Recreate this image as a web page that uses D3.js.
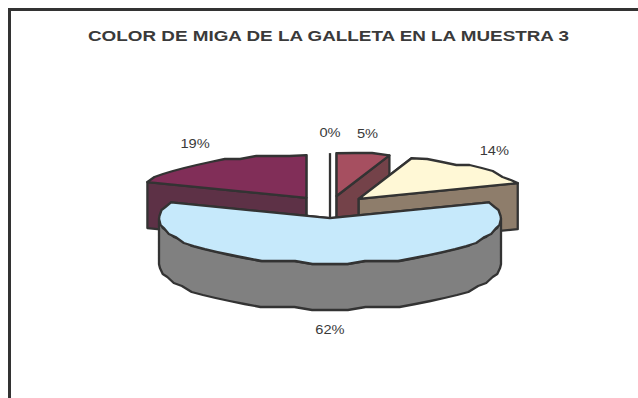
<!DOCTYPE html>
<html>
<head>
<meta charset="utf-8">
<script src="https://cdn.jsdelivr.net/npm/d3@7/dist/d3.min.js"></script>
<style>
html,body{margin:0;padding:0;background:#fff;overflow:hidden}
svg{display:block}
text{font-family:"Liberation Sans",Arial,sans-serif;fill:#3a3a3a}
</style>
</head>
<body>
<svg id="chart" width="638" height="398"></svg>
<script>
const chartTitle = "COLOR DE MIGA DE LA GALLETA EN LA MUESTRA 3";
const categories = ["Color 1", "Color 2", "Color 3", "Color 4", "Color 5"];
const shares = [0, 5, 14, 62, 19];
const topColors = ["#ffffff", "#a64f60", "#fff8d6", "#c6e9fb", "#812e58"];
const wallColors = ["#ffffff", "#744249", "#8e7d6b", "#808080", "#5d3146"];
// Back slices are painted first so the front slice overlaps them.
const paintOrder = [0, 4, 1, 2, 3];

const ink = "#333333";
const lineWidth = 2.3;
const cx = 330, cy = 207, rx = 171, depth = 46, explode = 42;
// The far half of the pie is foreshortened a little more than the near half.
const tiltFar = 0.25, tiltNear = 0.265;
// Text is set wider than the font's natural proportions.
const textWiden = 1.17;

const svg = d3.select("#chart");

// Chart frame runs off the right and bottom edges.
svg.append("path")
  .attr("d", "M9.5,398V9.5H638")
  .attr("fill", "none").attr("stroke", ink).attr("stroke-width", 3);

svg.append("text")
  .attr("x", 328.5).attr("y", 41)
  .attr("text-anchor", "middle")
  .attr("font-size", 14).attr("font-weight", "bold")
  .attr("textLength", 481).attr("lengthAdjust", "spacingAndGlyphs")
  .text(chartTitle);

const slices = d3.pie().value(d => d).sort(null)(shares);

const project = (a, r, ox, oy, tilt) => {
  const c = Math.cos(a);
  const k = tilt !== undefined ? tilt : (c > 0 ? tiltFar : tiltNear);
  return [ox + r * Math.sin(a), oy - r * k * c];
};
const stair = 3;
const rough = ([x, y]) => [x, Math.round(y / stair) * stair];

// Rim sampled into short chords, giving the faceted outline of the pie edge.
function rim(a0, a1, ox, oy) {
  const n = Math.max(1, Math.ceil(Math.abs(a1 - a0) / (6 * Math.PI / 180)));
  return d3.range(n + 1).map(i => {
    const p = project(a0 + (a1 - a0) * i / n, rx, ox, oy);
    return (i === 0 || i === n) ? p : rough(p);
  });
}
const line = d3.line();
const drop = pts => pts.map(([x, y]) => [x, y + depth]);
const poly = (sel, pts, fill) => sel.append("path")
  .attr("d", line(pts) + "Z")
  .attr("fill", fill).attr("stroke", ink)
  .attr("stroke-width", lineWidth).attr("stroke-linejoin", "round");

paintOrder.forEach(i => {
  const s = slices[i];
  const mid = (s.startAngle + s.endAngle) / 2;
  const ox = cx + explode * Math.sin(mid);
  const oy = cy - explode * tiltNear * Math.cos(mid);
  const g = svg.append("g").attr("class", "slice").datum(categories[i]);
  const apex = [ox, oy];

  if (s.endAngle === s.startAngle) {
    // An empty share collapses to a single upright edge.
    const edge = project(s.startAngle, rx, ox, oy);
    g.append("path").attr("d", line([edge, apex, [ox, oy + depth]]))
      .attr("fill", "none").attr("stroke", ink).attr("stroke-width", lineWidth);
    return;
  }

  // Cut faces, visible where the radial edge turns towards the viewer.
  [s.startAngle, s.endAngle].forEach(a => {
    const e = project(a, rx, ox, oy);
    poly(g, [apex, e, [e[0], e[1] + depth], [ox, oy + depth]], wallColors[i]);
  });

  // Outer wall for the front half of the rim.
  const lo = Math.max(s.startAngle, Math.PI / 2);
  const hi = Math.min(s.endAngle, 3 * Math.PI / 2);
  if (hi > lo) {
    const arc = rim(lo, hi, ox, oy);
    poly(g, arc.concat(drop(arc).reverse()), wallColors[i]);
  }

  poly(g, [apex].concat(rim(s.startAngle, s.endAngle, ox, oy)), topColors[i]);
});

// Percentage labels sit on a wider ring around the pie.
const labelRing = 240;
slices.forEach((s, i) => {
  const mid = (s.startAngle + s.endAngle) / 2;
  const front = Math.cos(mid) < 0;
  const p = project(mid, labelRing, cx, cy, tiltNear);
  const label = svg.append("text")
    .attr("x", p[0]).attr("y", p[1] + (front ? depth + 17 : -6))
    .attr("text-anchor", "middle")
    .attr("font-size", 12.5)
    .text(shares[i] + "%");
  label.attr("textLength", label.node().getComputedTextLength() * textWiden)
    .attr("lengthAdjust", "spacingAndGlyphs");
});
</script>
</body>
</html>
